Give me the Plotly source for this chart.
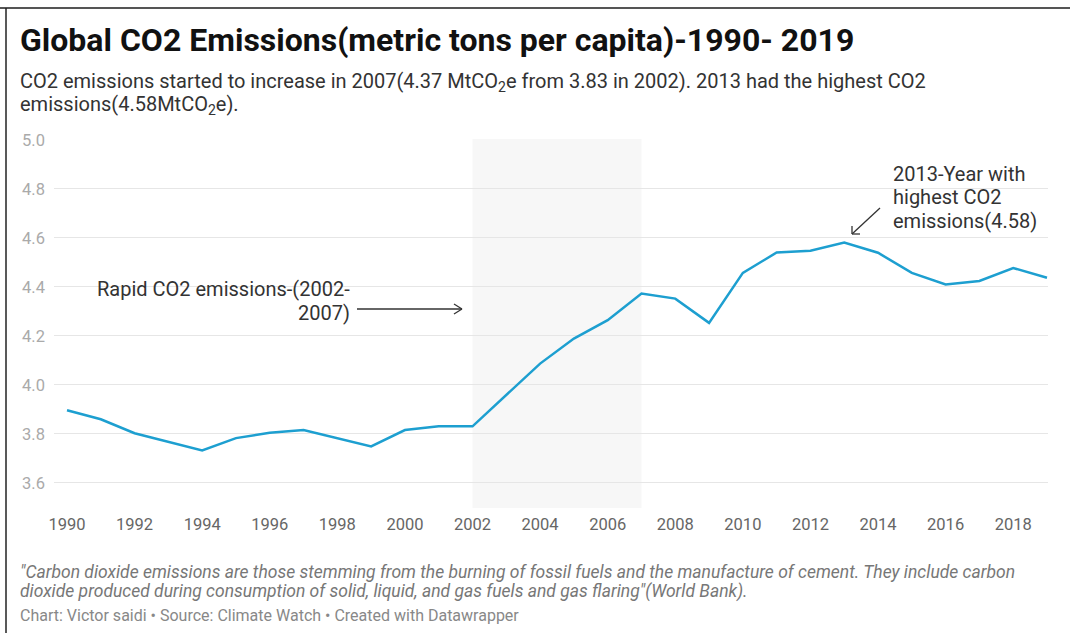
import plotly.graph_objects as go

years = [1990, 1991, 1992, 1993, 1994, 1995, 1996, 1997, 1998, 1999,
         2000, 2001, 2002, 2003, 2004, 2005, 2006, 2007, 2008, 2009,
         2010, 2011, 2012, 2013, 2014, 2015, 2016, 2017, 2018, 2019]
co2_per_capita = [3.897, 3.860, 3.803, 3.769, 3.733, 3.783, 3.805, 3.816, 3.783, 3.749,
                  3.816, 3.831, 3.831, 3.958, 4.087, 4.189, 4.264, 4.373, 4.352, 4.253,
                  4.457, 4.540, 4.547, 4.581, 4.539, 4.457, 4.410, 4.424, 4.477, 4.437]
x_ticks = [1990, 1992, 1994, 1996, 1998, 2000, 2002, 2004, 2006, 2008,
           2010, 2012, 2014, 2016, 2018]
y_ticks = [3.6, 3.8, 4.0, 4.2, 4.4, 4.6, 4.8, 5.0]
y_tick_text = ["3.6", "3.8", "4.0", "4.2", "4.4", "4.6", "4.8", "5.0"]
highlight_start, highlight_end = 2002, 2007
peak_year, peak_value = 2013, 4.58

W, H = 1070, 633
L, R, T, B = 54, 22, 139, 125
PW, PH = W - L - R, H - T - B


def px_x(px):
    return (px - L) / PW


def px_y(py):
    return (H - B - py) / PH


FONT = "Roboto"
fig = go.Figure()

fig.add_trace(go.Scatter(
    x=years, y=co2_per_capita, mode="lines",
    line=dict(color="#1d9fd0", width=2.5),
    hoverinfo="x+y", showlegend=False,
))

# highlighted period
fig.add_shape(type="rect", xref="x", yref="paper",
              x0=highlight_start, x1=highlight_end, y0=0, y1=1,
              fillcolor="#f7f7f7", line=dict(width=0), layer="below")

# frame lines
fig.add_shape(type="line", xref="paper", yref="paper",
              x0=px_x(0), x1=px_x(W), y0=px_y(8), y1=px_y(8),
              line=dict(color="#555555", width=2))
fig.add_shape(type="line", xref="paper", yref="paper",
              x0=px_x(6), x1=px_x(6), y0=px_y(8), y1=px_y(H),
              line=dict(color="#222222", width=1.5))


def seg(x0, y0, x1, y1):
    fig.add_shape(type="line", xref="paper", yref="paper",
                  x0=px_x(x0), y0=px_y(y0), x1=px_x(x1), y1=px_y(y1),
                  line=dict(color="#333333", width=1.3))


# arrow 1 (horizontal)
seg(357, 309, 462, 309)
seg(462, 309, 454, 304)
seg(462, 309, 454, 314)
# arrow 2 (diagonal)
seg(880, 208, 852, 234)
seg(852, 234, 860, 234)
seg(852, 234, 852, 226)

ann = []
# title
ann.append(dict(text="<b>Global CO2 Emissions(metric tons per capita)-1990- 2019</b>",
                x=px_x(19), y=px_y(40), xanchor="left", yanchor="middle",
                font=dict(family=FONT, size=32, color="#111111")))
# subtitle
ann.append(dict(text="CO2 emissions started to increase in 2007(4.37 MtCO<sub>2</sub>e from 3.83 in 2002). 2013 had the highest CO2",
                x=px_x(19), y=px_y(82), xanchor="left", yanchor="middle",
                font=dict(family=FONT, size=20, color="#333333")))
ann.append(dict(text="emissions(4.58MtCO<sub>2</sub>e).",
                x=px_x(19), y=px_y(105), xanchor="left", yanchor="middle",
                font=dict(family=FONT, size=20, color="#333333")))
# footer
ann.append(dict(text="<i>\"Carbon dioxide emissions are those stemming from the burning of fossil fuels and the manufacture of cement. They include carbon</i>",
                x=px_x(19), y=px_y(572), xanchor="left", yanchor="middle",
                font=dict(family=FONT, size=17.5, color="#777777")))
ann.append(dict(text="<i>dioxide produced during consumption of solid, liquid, and gas fuels and gas flaring\"(World Bank).</i>",
                x=px_x(19), y=px_y(591), xanchor="left", yanchor="middle",
                font=dict(family=FONT, size=17.5, color="#777777")))
ann.append(dict(text="Chart: Victor saidi • Source: Climate Watch • Created with Datawrapper",
                x=px_x(19), y=px_y(615), xanchor="left", yanchor="middle",
                font=dict(family=FONT, size=16, color="#888888")))

# annotation 1
ann.append(dict(text="Rapid CO2 emissions-(2002-",
                x=px_x(351), y=px_y(289), xanchor="right", yanchor="middle",
                font=dict(family=FONT, size=20, color="#333333")))
ann.append(dict(text="2007)",
                x=px_x(351), y=px_y(313), xanchor="right", yanchor="middle",
                font=dict(family=FONT, size=20, color="#333333")))
# annotation 2
for i, line in enumerate([f"{peak_year}-Year with", "highest CO2", f"emissions({peak_value})"]):
    ann.append(dict(text=line, x=px_x(892), y=px_y(174 + 23.4 * i),
                    xanchor="left", yanchor="middle",
                    font=dict(family=FONT, size=20, color="#333333")))

for a in ann:
    a.update(xref="paper", yref="paper", showarrow=False, borderpad=0)

fig.update_layout(
    width=W, height=H,
    margin=dict(l=L, r=R, t=T, b=B),
    paper_bgcolor="white", plot_bgcolor="white",
    annotations=ann,
    showlegend=False,
    xaxis=dict(range=[1989.615, 2019.03], tickvals=x_ticks, showgrid=False,
               zeroline=False, showline=False, ticks="",
               tickfont=dict(family=FONT, size=16.5, color="#666666"),
               ticklabelstandoff=4, fixedrange=True),
    yaxis=dict(range=[3.498, 5.003], tickvals=y_ticks, ticktext=y_tick_text,
               showgrid=True, gridcolor="#e6e6e6", gridwidth=1,
               zeroline=False, showline=False, ticks="",
               tickfont=dict(family=FONT, size=16.5, color="#aaaaaa"),
               ticklabelstandoff=8, fixedrange=True),
)

fig.write_html("out.html")
